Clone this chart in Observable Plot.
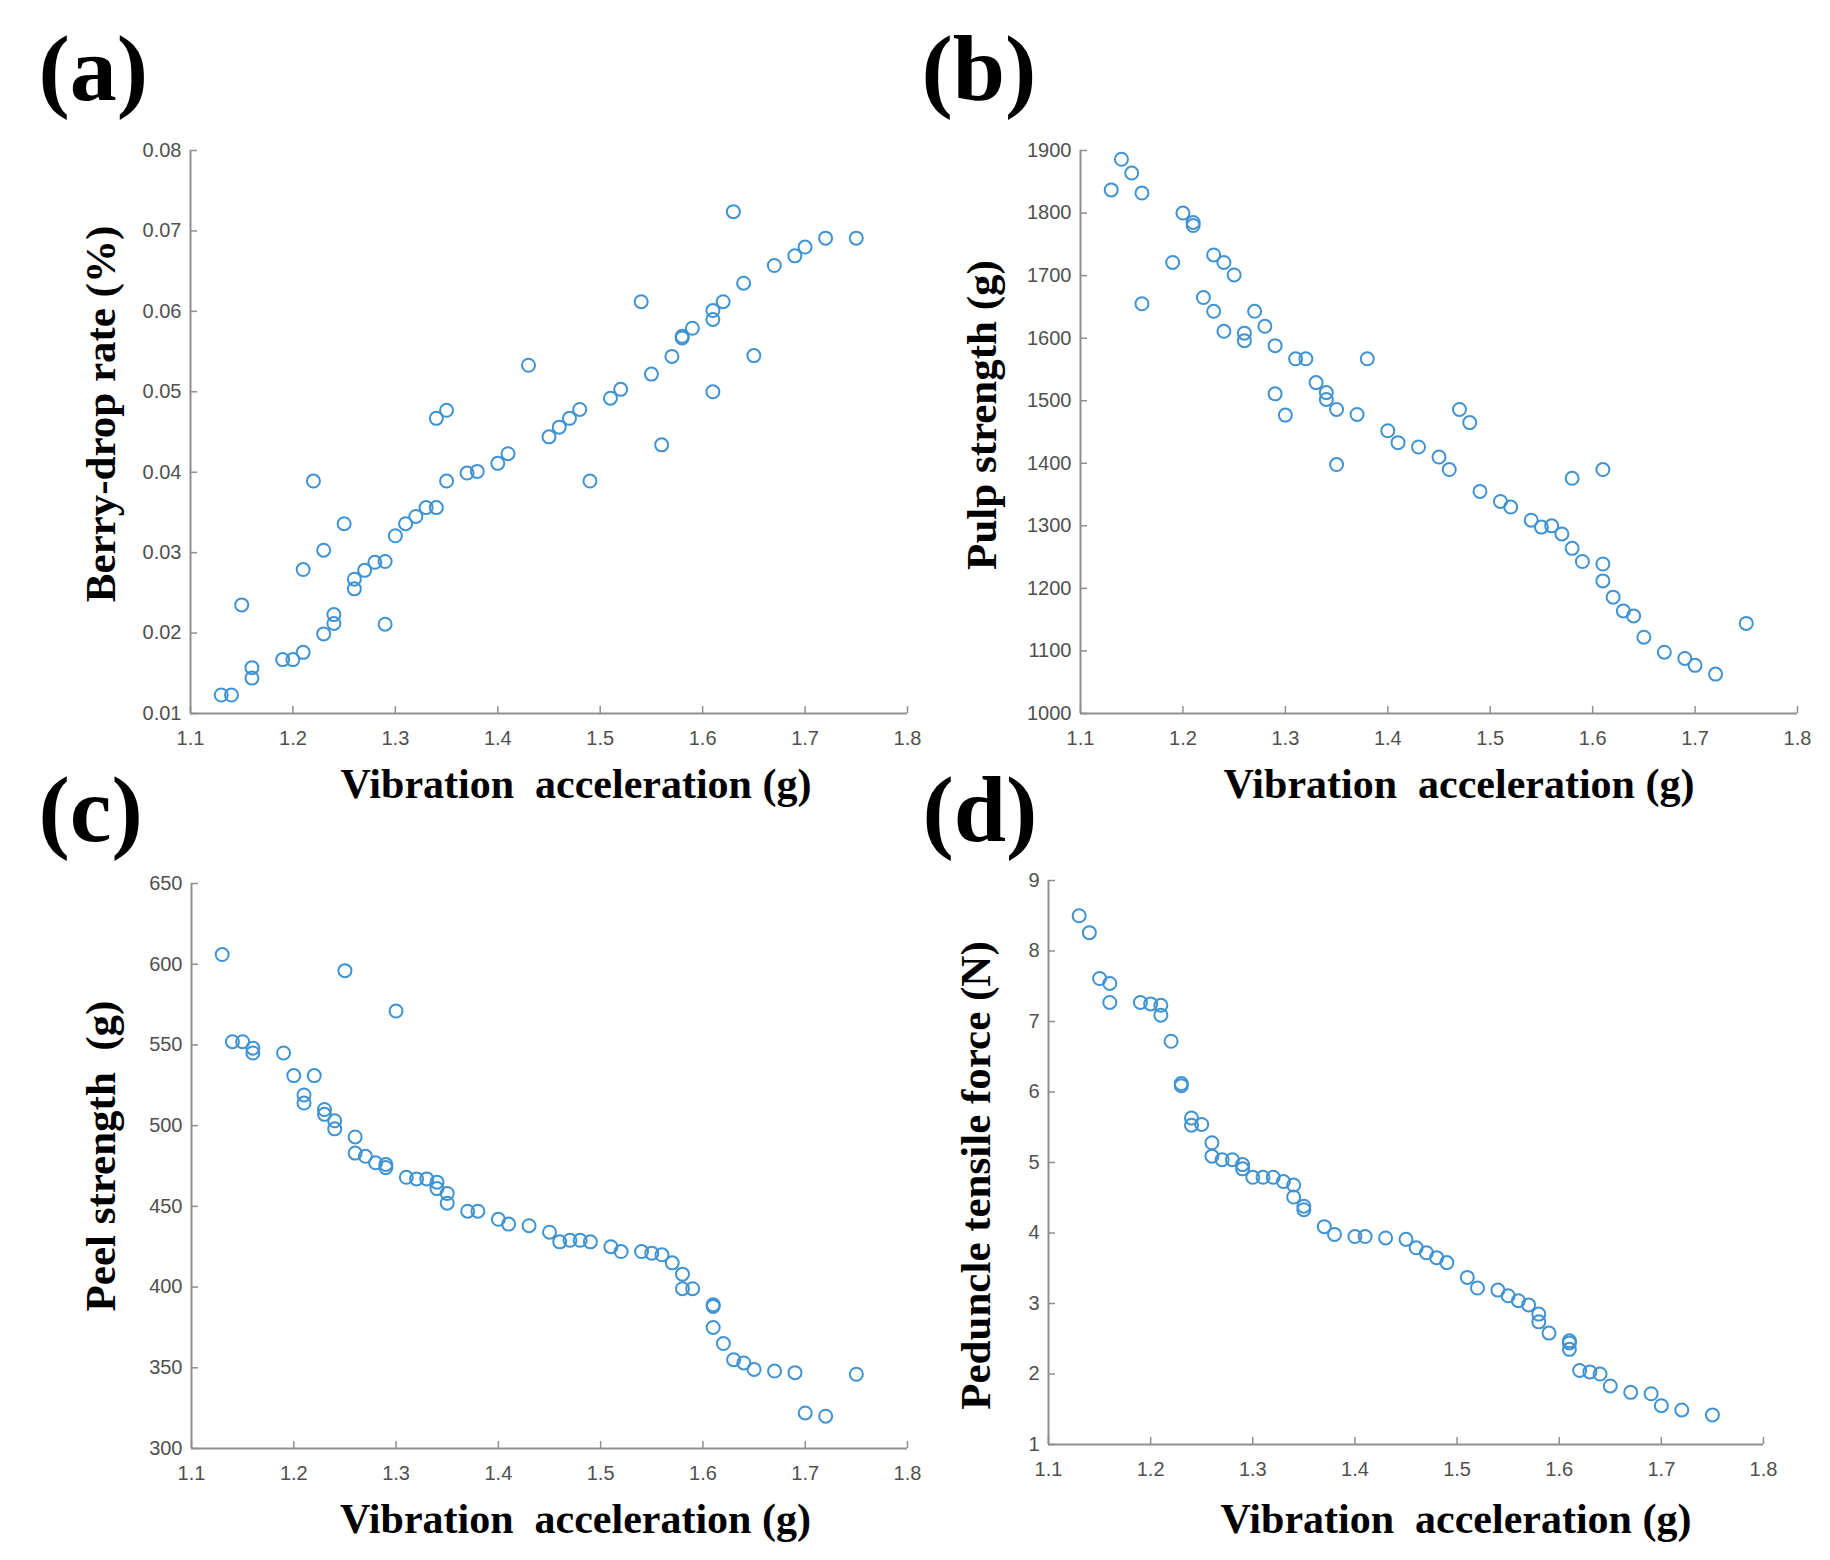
<!DOCTYPE html>
<html>
<head>
<meta charset="utf-8">
<script src="https://cdn.jsdelivr.net/npm/d3@7"></script>
<script src="https://cdn.jsdelivr.net/npm/@observablehq/plot@0.6"></script>
<style>
html, body { margin: 0; padding: 0; background: #fff; }
#root { position: relative; width: 1830px; height: 1560px; overflow: hidden; background: #fff; }
#root > svg { position: absolute; }
</style>
</head>
<body>
<div id="root"></div>
<script>
// ---------- data ----------
const vibration = [1.13,1.14,1.15,1.16,1.16,1.19,1.20,1.21,1.21,1.22,1.23,1.23,1.24,1.24,1.25,1.26,1.26,1.27,1.28,1.29,1.29,1.30,1.31,1.32,1.33,1.34,1.34,1.35,1.35,1.37,1.38,1.40,1.41,1.43,1.45,1.46,1.47,1.48,1.49,1.51,1.52,1.54,1.55,1.56,1.57,1.58,1.58,1.59,1.61,1.61,1.61,1.62,1.63,1.64,1.65,1.67,1.69,1.70,1.72,1.75];

const berryDrop = [0.0123,0.0123,0.0235,0.0157,0.0144,0.0167,0.0167,0.0176,0.0279,0.0389,0.0199,0.0303,0.0223,0.0212,0.0336,0.0267,0.0255,0.0278,0.0288,0.0289,0.0211,0.0321,0.0336,0.0345,0.0356,0.0356,0.0467,0.0477,0.0389,0.0399,0.0401,0.0411,0.0423,0.0533,0.0444,0.0456,0.0467,0.0478,0.0389,0.0492,0.0503,0.0612,0.0522,0.0434,0.0544,0.0567,0.0569,0.0579,0.0601,0.0590,0.0500,0.0612,0.0724,0.0635,0.0545,0.0657,0.0669,0.0680,0.0691,0.0691];

const pulpStrength = [1837,1886,1864,1832,1655,1721,1800,1785,1780,1665,1733,1643,1721,1611,1701,1608,1596,1643,1619,1588,1511,1477,1567,1567,1529,1513,1502,1486,1398,1478,1567,1452,1433,1426,1410,1390,1486,1465,1355,1339,1330,1309,1298,1300,1287,1264,1376,1243,1239,1212,1390,1186,1164,1156,1122,1098,1088,1077,1063,1144];

const peelStrength = [606,552,552,548,545,545,531,519,514,531,510,507,503,498,596,493,483,481,477,476,474,571,468,467,467,465,461,458,452,447,447,442,439,438,434,428,429,429,428,425,422,422,421,420,415,408,399,399,389,375,388,365,355,353,349,348,347,322,320,346];

const peduncleForce = [8.50,8.26,7.61,7.54,7.27,7.27,7.25,7.23,7.09,6.72,6.12,6.09,5.63,5.53,5.54,5.28,5.09,5.04,5.04,4.97,4.91,4.79,4.79,4.79,4.73,4.68,4.51,4.38,4.33,4.09,3.98,3.95,3.95,3.93,3.91,3.79,3.72,3.65,3.58,3.37,3.22,3.19,3.11,3.04,2.98,2.85,2.74,2.58,2.47,2.35,2.44,2.05,2.03,2.00,1.83,1.74,1.72,1.55,1.49,1.42];

const xTicks = [1.1,1.2,1.3,1.4,1.5,1.6,1.7,1.8];
const yTicksA = [0.01,0.02,0.03,0.04,0.05,0.06,0.07,0.08];
const yTicksB = [1000,1100,1200,1300,1400,1500,1600,1700,1800,1900];
const yTicksC = [300,350,400,450,500,550,600,650];
const yTicksD = [1,2,3,4,5,6,7,8,9];

const panelLabels = ["(a)", "(b)", "(c)", "(d)"];
const xTitle = "Vibration  acceleration (g)";
const yTitles = ["Berry-drop rate (%)", "Pulp strength (g)", "Peel strength  (g)", "Peduncle tensile force (N)"];

// ---------- layout ----------
const panels = [
  {left: 0,   top: 0,   ml: 190, mr: 8,  mt: 150, mb: 67,  y: berryDrop,     ticks: yTicksA, fmt: d3.format(".2f"),
   lab: {dx: -152, dy: -81}, xt: {dx: 27, dy: 71}, yt: {dx: -89, dy: -18}},
  {left: 915, top: 0,   ml: 165, mr: 33, mt: 150, mb: 67,  y: pulpStrength,  ticks: yTicksB, fmt: d3.format("d"),
   lab: {dx: -159, dy: -81}, xt: {dx: 20, dy: 71}, yt: {dx: -98, dy: -17}},
  {left: 0,   top: 780, ml: 191, mr: 8,  mt: 103, mb: 112, y: peelStrength,  ticks: yTicksC, fmt: d3.format("d"),
   lab: {dx: -153, dy: -73}, xt: {dx: 26, dy: 71}, yt: {dx: -90, dy: -10}},
  {left: 915, top: 780, ml: 133, mr: 67, mt: 100, mb: 116, y: peduncleForce, ticks: yTicksD, fmt: d3.format("d"),
   lab: {dx: -126, dy: -70}, xt: {dx: 50, dy: 75}, yt: {dx: -72, dy: 13}}
];

const serif = "'Liberation Serif', 'Times New Roman', serif";
const sans = "'Liberation Sans', Arial, Helvetica, sans-serif";
const axisGray = "#8f8f8f";
const tickText = "#505050";
const markerBlue = "#3f93d2";

const root = document.getElementById("root");

panels.forEach((p, i) => {
  const yDomain = [p.ticks[0], p.ticks[p.ticks.length - 1]];
  const svg = Plot.plot({
    width: 915,
    height: 780,
    marginLeft: p.ml,
    marginRight: p.mr,
    marginTop: p.mt,
    marginBottom: p.mb,
    style: {background: "transparent", overflow: "visible"},
    x: {domain: [1.1, 1.8]},
    y: {domain: yDomain},
    marks: [
      Plot.ruleX([1.1], {stroke: axisGray, strokeWidth: 2}),
      Plot.ruleY([yDomain[0]], {stroke: axisGray, strokeWidth: 2}),
      Plot.axisX(xTicks, {
        tickSize: -7, tickPadding: 24, tickFormat: d3.format(".1f"),
        stroke: axisGray, strokeWidth: 1.5, fill: tickText,
        fontSize: 20, fontFamily: sans, label: null
      }),
      Plot.axisY(p.ticks, {
        tickSize: -7, tickPadding: 16, tickFormat: p.fmt,
        stroke: axisGray, strokeWidth: 1.5, fill: tickText,
        fontSize: 20, fontFamily: sans, label: null
      }),
      Plot.dot(p.y, {x: vibration, y: p.y, r: 6.5, stroke: markerBlue, strokeWidth: 2, fill: "none"}),
      Plot.text([panelLabels[i]], {
        text: d => d, frameAnchor: "top-left", textAnchor: "start", lineAnchor: "middle",
        dx: p.lab.dx, dy: p.lab.dy, fontSize: 94, fontWeight: "bold", fontFamily: serif, fill: "#000"
      }),
      Plot.text([xTitle], {
        text: d => d, frameAnchor: "bottom", textAnchor: "middle", lineAnchor: "middle",
        dx: p.xt.dx, dy: p.xt.dy, fontSize: 42, fontWeight: "bold", fontFamily: serif, fill: "#000"
      }),
      Plot.text([yTitles[i]], {
        text: d => d, frameAnchor: "left", textAnchor: "middle", lineAnchor: "middle", rotate: -90,
        dx: p.yt.dx, dy: p.yt.dy, fontSize: 43, fontWeight: "bold", fontFamily: serif, fill: "#000"
      })
    ]
  });
  svg.style.left = p.left + "px";
  svg.style.top = p.top + "px";
  root.appendChild(svg);
});
</script>
</body>
</html>
